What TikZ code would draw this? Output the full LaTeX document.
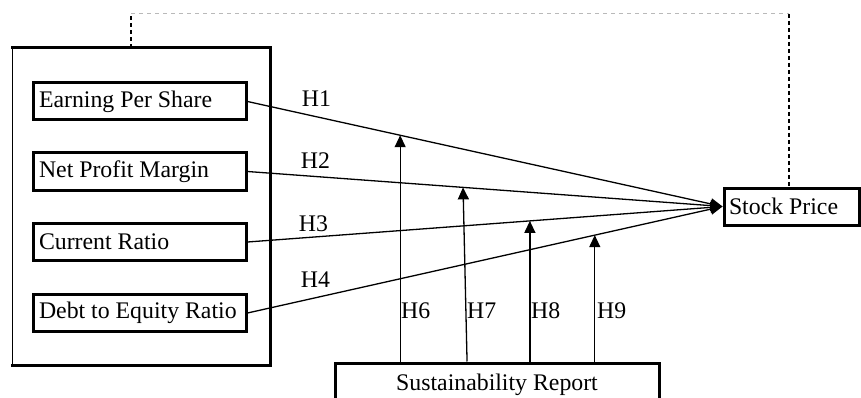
\documentclass[tikz,border=0pt]{standalone}
\usepackage{fontspec}
\setmainfont{Liberation Serif}
\usetikzlibrary{arrows.meta,calc}
\newcommand{\boxtext}[1]{\makebox[201pt][l]{#1}}
\begin{document}
\begin{tikzpicture}[x=1pt,y=-1pt,
  every node/.style={font=\fontsize{23.8}{28}\selectfont},
  varbox/.style={draw, line width=3pt, minimum height=37pt, minimum width=213pt, inner xsep=6pt, inner ysep=0pt},
  link/.style={line width=1.3pt, -{Triangle[length=12pt,width=11pt]}},
  hlabel/.style={inner sep=0pt},
  fbdark/.style={line width=1.2pt, dash pattern=on 4pt off 3pt},
  fbgray/.style={line width=1pt, gray!55, dash pattern=on 4pt off 4pt}]
\useasboundingbox (0,0) rectangle (861,398);
\clip (0,0) rectangle (861,398);

% group box
\node[minimum width=258pt, minimum height=317pt, inner sep=0pt, outer sep=0pt] (group) at (141,206.5) {};
\draw[line width=3pt, line cap=rect] (group.north west) -- (group.north east) -- (group.south east) -- (group.south west);
\draw[line width=1pt] (group.south west) -- (group.north west);

% variable boxes
\node[varbox] (eps) at (139.5,101.5) {\boxtext{Earning Per Share}};
\node[varbox] (npm) at (139.5,171.5) {\boxtext{Net Profit Margin}};
\node[varbox] (cr)  at (139.5,242) {\boxtext{Current Ratio}};
\node[varbox] (der) at (139.5,313) {\boxtext{Debt to Equity Ratio}};

\node[draw, line width=3pt, minimum height=37pt, inner xsep=5pt, inner ysep=0pt] (stock) at (791.5,206.5) {\makebox[125pt][l]{Stock Price}};

\node[draw, line width=3pt, minimum width=324pt, minimum height=44pt] (sustain) at (497,385) {Sustainability Report};

% main links
\draw[link] (eps.east) -- (stock.west);
\draw[link] (npm.east) -- (stock.west);
\draw[link] (cr.east) -- (stock.west);
\draw[link] (der.east) -- (stock.west);

% moderation points
\coordinate (m6) at ($(eps.east)!0.3214!(stock.west)$);
\coordinate (m7) at ($(npm.east)!0.4538!(stock.west)$);
\coordinate (m8) at ($(cr.east)!0.5945!(stock.west)$);
\coordinate (m9) at ($(der.east)!0.7311!(stock.west)$);

\draw[link] (sustain.north -| m6) -- (m6);
\draw[link] ($(sustain.north -| m7)+(4,0)$) -- (m7);
\draw[link] (sustain.north -| m8) -- (m8);
\draw[link] (sustain.north -| m9) -- (m9);

% labels
\node[hlabel] (h1) at (316.5,98.5) {H1};
\node[hlabel] (h2) at (315.5,160.5) {H2};
\node[hlabel] (h3) at (313.5,223.5) {H3};
\node[hlabel] (h4) at (315.5,280) {H4};
\node[hlabel, anchor=west] (h6) at (401,311) {H6};
\node[hlabel, anchor=west] (h7) at (467,311) {H7};
\node[hlabel, anchor=west] (h8) at (531,311) {H8};
\node[hlabel, anchor=west] (h9) at (597,311) {H9};

% feedback dashed line
\coordinate (fb1) at (131,14);
\coordinate (fb2) at (789,14);
\draw[fbdark] (group.north -| fb1) -- (fb1);
\draw[fbgray] (fb1) -- (fb2);
\draw[fbdark] (fb2) -- (stock.north -| fb2);
\end{tikzpicture}
\end{document}
